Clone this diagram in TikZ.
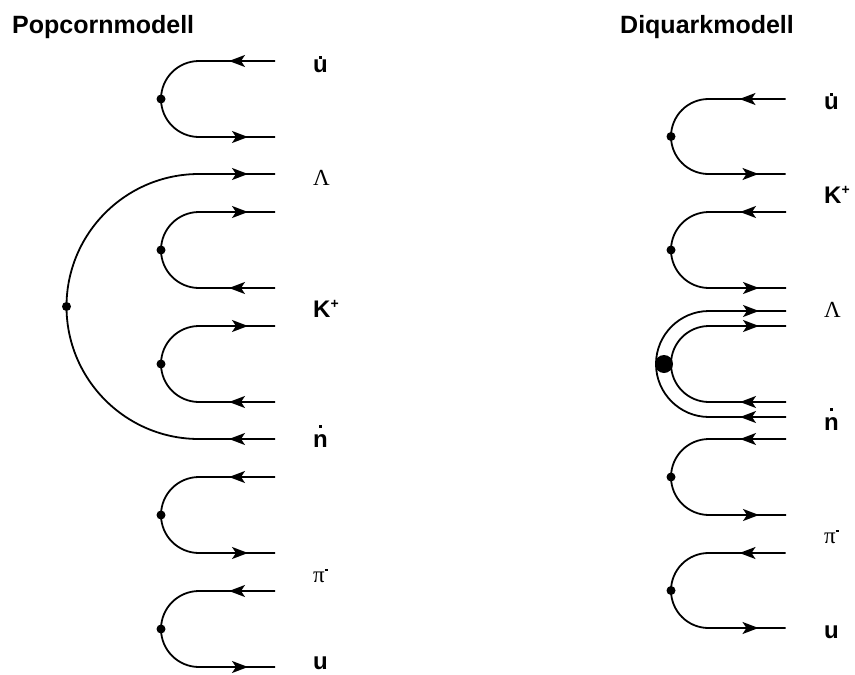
\documentclass[tikz,border=0pt]{standalone}
\usepackage{fontspec}
\setmainfont{Liberation Sans}
\newfontfamily\greekfont{Liberation Serif}
\usetikzlibrary{arrows.meta,decorations.markings}

% antiquark: small bar raised over the letter
\newcommand{\barq}[2]{\ooalign{#1\cr\hfil\rule[#2]{2.3pt}{3pt}\hfil\cr}}

\tikzset{
  quark/.style={line width=1.8pt},
  toright/.style={postaction={decorate},decoration={markings,
      mark=at position -27pt with {\arrow{Stealth[length=16pt,width=12pt,inset=4pt]}}}},
  toleft/.style={postaction={decorate},decoration={markings,
      mark=at position -46pt with {\arrowreversed{Stealth[length=16pt,width=12pt,inset=4pt]}}}},
  vertex/.style={circle,fill,inner sep=0pt,minimum size=9pt},
  bigvertex/.style={circle,fill,inner sep=0pt,minimum size=18pt},
  hadron/.style={anchor=base west,inner sep=0pt,font=\bfseries\fontsize{24}{24}\selectfont},
  baryon/.style={anchor=base west,inner sep=0pt,font=\greekfont\fontsize{23}{23}\selectfont},
  heading/.style={anchor=base west,inner sep=0pt,font=\bfseries\fontsize{25}{25}\selectfont}
}

\begin{document}
\begin{tikzpicture}[x=1pt,y=-1pt]
\useasboundingbox (0,0) rectangle (855,675);

\node[heading] (popcorn) at (12,33) {Popcornmodell};
\node[heading] (diquark) at (620,33) {Diquarkmodell};

% Popcornmodell
\node[vertex] (vL1) at (161,99) {};
\node[vertex] (vL) at (66.5,306.5) {};
\node[vertex] (vL2) at (161,250) {};
\node[vertex] (vL3) at (161,364) {};
\node[vertex] (vL4) at (161,515) {};
\node[vertex] (vL5) at (161,629) {};

\draw[quark,toleft] (vL1.center) arc[start angle=180,end angle=90,radius=38pt] -- ++(76,0);
\draw[quark,toright] (vL1.center) arc[start angle=180,end angle=270,radius=38pt] -- ++(76,0);
\draw[quark,toright] (vL.center) arc[start angle=180,end angle=90,radius=132.5pt] -- ++(76,0);
\draw[quark,toleft] (vL.center) arc[start angle=180,end angle=270,radius=132.5pt] -- ++(76,0);
\draw[quark,toright] (vL2.center) arc[start angle=180,end angle=90,radius=38pt] -- ++(76,0);
\draw[quark,toleft] (vL2.center) arc[start angle=180,end angle=270,radius=38pt] -- ++(76,0);
\draw[quark,toright] (vL3.center) arc[start angle=180,end angle=90,radius=38pt] -- ++(76,0);
\draw[quark,toleft] (vL3.center) arc[start angle=180,end angle=270,radius=38pt] -- ++(76,0);
\draw[quark,toleft] (vL4.center) arc[start angle=180,end angle=90,radius=38pt] -- ++(76,0);
\draw[quark,toright] (vL4.center) arc[start angle=180,end angle=270,radius=38pt] -- ++(76,0);
\draw[quark,toleft] (vL5.center) arc[start angle=180,end angle=90,radius=38pt] -- ++(76,0);
\draw[quark,toright] (vL5.center) arc[start angle=180,end angle=270,radius=38pt] -- ++(76,0);

\node[hadron] (ubarL) at (313,72) {\barq{u}{13pt}};
\node[baryon] (lambdaL) at (313,185) {Λ};
\node[hadron] (kaonL) at (313,317) {K\raisebox{9pt}{\fontsize{14}{14}\selectfont+}};
\node[hadron] (nbarL) at (313,447) {\barq{n}{19pt}};
\node[baryon] (pionL) at (313,582) {π\raisebox{11pt}{\rule{3pt}{1.6pt}}};
\node[hadron] (uL) at (313,669) {u};

% Diquarkmodell
\node[vertex] (vR1) at (671,136.5) {};
\node[vertex] (vR2) at (671,250) {};
\coordinate (vRin) at (671,364);
\coordinate (vRout) at (656,364);
\node[vertex] (vR4) at (671,477) {};
\node[vertex] (vR5) at (671,590.5) {};

\draw[quark,toleft] (vR1.center) arc[start angle=180,end angle=90,radius=37.5pt] -- ++(77,0);
\draw[quark,toright] (vR1.center) arc[start angle=180,end angle=270,radius=37.5pt] -- ++(77,0);
\draw[quark,toleft] (vR2.center) arc[start angle=180,end angle=90,radius=38pt] -- ++(77,0);
\draw[quark,toright] (vR2.center) arc[start angle=180,end angle=270,radius=38pt] -- ++(77,0);
\draw[quark,toright] (vRout) arc[start angle=180,end angle=90,radius=53pt] -- ++(77,0);
\draw[quark,toleft] (vRout) arc[start angle=180,end angle=270,radius=53pt] -- ++(77,0);
\draw[quark,toright] (vRin) arc[start angle=180,end angle=90,radius=38pt] -- ++(77,0);
\draw[quark,toleft] (vRin) arc[start angle=180,end angle=270,radius=38pt] -- ++(77,0);
\draw[quark,toleft] (vR4.center) arc[start angle=180,end angle=90,radius=38pt] -- ++(77,0);
\draw[quark,toright] (vR4.center) arc[start angle=180,end angle=270,radius=38pt] -- ++(77,0);
\draw[quark,toleft] (vR5.center) arc[start angle=180,end angle=90,radius=37.5pt] -- ++(77,0);
\draw[quark,toright] (vR5.center) arc[start angle=180,end angle=270,radius=37.5pt] -- ++(77,0);
\node[bigvertex] (vRdi) at (664,364) {};

\node[hadron] (ubarR) at (824,109) {\barq{u}{13pt}};
\node[hadron] (kaonR) at (824,203) {K\raisebox{9pt}{\fontsize{14}{14}\selectfont+}};
\node[baryon] (lambdaR) at (824,317) {Λ};
\node[hadron] (nbarR) at (824,430) {\barq{n}{19pt}};
\node[baryon] (pionR) at (824,543) {π\raisebox{11pt}{\rule{3pt}{1.6pt}}};
\node[hadron] (uR) at (824,638) {u};

\end{tikzpicture}
\end{document}
